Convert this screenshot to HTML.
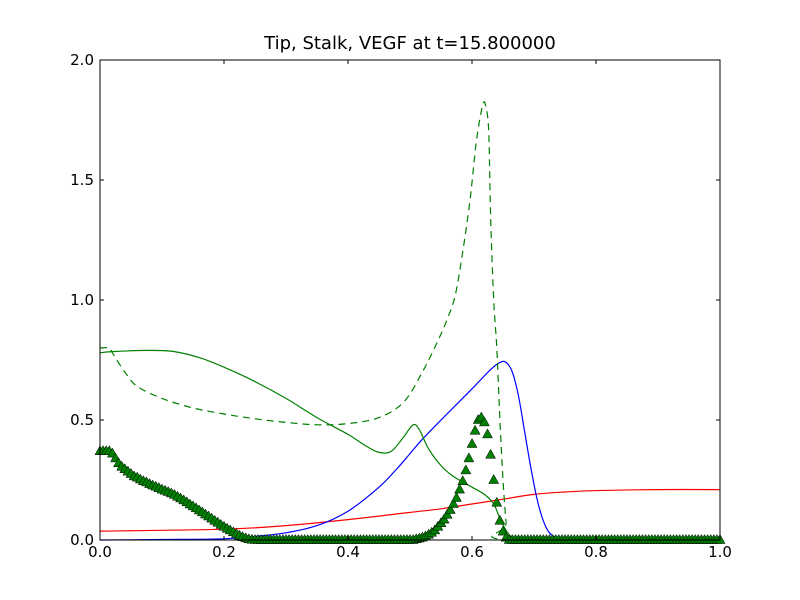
<!DOCTYPE html>
<html><head><meta charset="utf-8"><style>
body{margin:0;background:#fff;}
svg{display:block;font-family:"DejaVu Sans","Liberation Sans",sans-serif;}
</style></head><body>
<svg id="chart" width="800" height="600" xmlns="http://www.w3.org/2000/svg">
<rect x="0" y="0" width="800" height="600" fill="#ffffff"/>
<text x="410" y="49" font-size="18" text-anchor="middle">Tip, Stalk, VEGF at t=15.800000</text>
<g id="marks"></g>
<rect x="100" y="60" width="620" height="480" fill="none" stroke="#000" stroke-width="1"/>
<g id="axes"></g>
</svg>
<script>
const xTicks=[0,0.2,0.4,0.6,0.8,1.0];
const xTickLabels=["0.0","0.2","0.4","0.6","0.8","1.0"];
const yTicks=[0,0.5,1.0,1.5,2.0];
const yTickLabels=["0.0","0.5","1.0","1.5","2.0"];
const blueX=[0,0.1,0.2,0.25,0.3,0.35,0.4,0.45,0.48,0.5,0.52,0.55,0.6,0.63,0.645,0.655,0.665,0.675,0.685,0.695,0.705,0.715,0.725,0.74,0.76,1.0];
const blueY=[0.0,0.002,0.005,0.015,0.03,0.06,0.12,0.22,0.3,0.36,0.42,0.5,0.63,0.71,0.74,0.74,0.7,0.6,0.45,0.3,0.17,0.08,0.03,0.005,0,0];
const redX=[0,0.2,0.3,0.4,0.5,0.55,0.6,0.65,0.7,0.75,0.8,0.9,1.0];
const redY=[0.037,0.045,0.06,0.085,0.115,0.13,0.15,0.17,0.19,0.2,0.206,0.21,0.21];
const stalkX=[0,0.02,0.08,0.12,0.16,0.2,0.25,0.3,0.35,0.4,0.43,0.45,0.47,0.49,0.505,0.515,0.53,0.55,0.57,0.6,0.62,0.635,0.645,0.655,0.665,0.68,1.0];
const stalkY=[0.78,0.785,0.79,0.785,0.76,0.72,0.66,0.59,0.51,0.44,0.39,0.365,0.37,0.43,0.48,0.46,0.38,0.31,0.265,0.22,0.19,0.15,0.09,0.04,0.01,0,0];
const dashX=[0,0.015,0.02,0.04,0.06,0.1,0.15,0.2,0.25,0.3,0.35,0.4,0.45,0.49,0.52,0.545,0.56,0.573,0.585,0.597,0.607,0.617,0.622,0.627,0.63,0.635,0.64,0.645,0.65,0.655,0.658,1.0];
const dashY=[0.8,0.8,0.78,0.7,0.64,0.59,0.55,0.525,0.505,0.49,0.48,0.485,0.51,0.575,0.7,0.83,0.92,1.02,1.2,1.42,1.66,1.81,1.81,1.7,1.35,1.0,0.8,0.5,0.25,0.07,0,0];
const tipY=[0.37,0.37,0.37,0.37,0.36,0.34,0.32,0.305,0.295,0.285,0.275,0.265,0.26,0.252,0.245,0.24,0.233,0.227,0.222,0.216,0.21,0.205,0.2,0.194,0.188,0.18,0.173,0.165,0.157,0.148,0.14,0.132,0.123,0.115,0.106,0.098,0.089,0.08,0.072,0.063,0.055,0.047,0.04,0.032,0.025,0.018,0.012,0.007,0.003,0.001,
0,0,0,0,0,0,0,0,0,0,0,0,0,0,0,0,0,0,0,0,0,0,0,0,0,0,0,0,0,0,0,0,0,0,0,0,0,0,0,0,0,0,0,0,0,0,0,0,0,0,0,0,
0.003,0.006,0.01,0.015,0.022,0.03,0.04,0.055,0.07,0.085,0.105,0.125,0.15,0.175,0.21,0.245,0.29,0.34,0.4,0.455,0.5,0.51,0.49,0.44,0.355,0.25,0.155,0.08,0.035,0.01,
0,0,0,0,0,0,0,0,0,0,0,0,0,0,0,0,0,0,0,0,0,0,0,0,0,0,0,0,0,0,0,0,0,0,0,0,0,0,0,0,0,0,0,0,0,0,0,0,0,0,0,0,0,0,0,0,0,0,0,0,0,0,0,0,0,0,0,0,0];
const tipStep=0.005;
const NS="http://www.w3.org/2000/svg";
const xs=v=>100+v*620, ys=v=>540-v*240;
const marks=document.getElementById('marks'), axes=document.getElementById('axes');
function smoothPath(P){
 let d=`M${P[0][0].toFixed(2)},${P[0][1].toFixed(2)}`;
 for(let i=0;i<P.length-1;i++){
  const p0=P[i-1]||P[i],p1=P[i],p2=P[i+1],p3=P[i+2]||P[i+1];
  const c1=[p1[0]+(p2[0]-p0[0])/6,p1[1]+(p2[1]-p0[1])/6];
  const c2=[p2[0]-(p3[0]-p1[0])/6,p2[1]-(p3[1]-p1[1])/6];
  d+=`C${c1[0].toFixed(2)},${c1[1].toFixed(2)} ${c2[0].toFixed(2)},${c2[1].toFixed(2)} ${p2[0].toFixed(2)},${p2[1].toFixed(2)}`;
 }
 return d;
}
function line(X,Y,color,name,dash){
 const p=document.createElementNS(NS,'path');
 p.setAttribute('d',smoothPath(X.map((x,i)=>[xs(x),ys(Y[i])])));
 p.setAttribute('fill','none');p.setAttribute('stroke',color);p.setAttribute('stroke-width','1.2');
 if(dash)p.setAttribute('stroke-dasharray','7,5');
 
 
 marks.appendChild(p);
}
line(redX,redY,'#ff0000','vegf-line');
line(blueX,blueY,'#0000ff','tip-density-line');
line(stalkX,stalkY,'#008000','stalk-line');
line(dashX,dashY,'#008000','stalk-dashed-line',true);
for(let i=0;i<tipY.length;i++){
 const cx=xs(i*tipStep), cy=ys(tipY[i]);
 if(cx>720.5)break;
 const t=document.createElementNS(NS,'polygon');
 t.setAttribute('points',`${cx},${cy-5.5} ${cx-5},${cy+3.5} ${cx+5},${cy+3.5}`);
 t.setAttribute('fill','#008000');t.setAttribute('stroke','#000');t.setAttribute('stroke-width','0.5');
 
 
 marks.appendChild(t);
}
xTicks.forEach((v,i)=>{
 const x=xs(v);
 const a=document.createElementNS(NS,'path');
 a.setAttribute('d',`M${x},540v-4M${x},60v4`);a.setAttribute('stroke','#000');
 
 
 axes.appendChild(a);
 const t=document.createElementNS(NS,'text');
 t.setAttribute('x',x);t.setAttribute('y',557);t.setAttribute('font-size','15');t.setAttribute('text-anchor','middle');
 t.textContent=xTickLabels[i];
 
 
 axes.appendChild(t);
});
yTicks.forEach((v,i)=>{
 const y=ys(v);
 const a=document.createElementNS(NS,'path');
 a.setAttribute('d',`M100,${y}h4M720,${y}h-4`);a.setAttribute('stroke','#000');
 
 
 axes.appendChild(a);
 const t=document.createElementNS(NS,'text');
 t.setAttribute('x',94);t.setAttribute('y',y+5);t.setAttribute('font-size','15');t.setAttribute('text-anchor','end');
 t.textContent=yTickLabels[i];
 
 
 axes.appendChild(t);
});
</script>
</body></html>
